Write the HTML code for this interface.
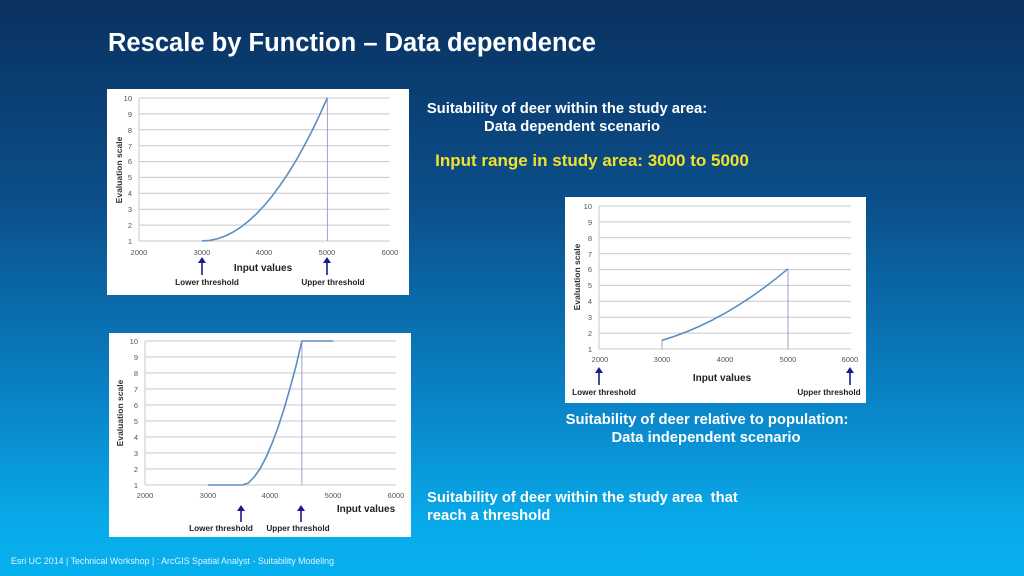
<!DOCTYPE html>
<html><head><meta charset="utf-8"><style>
html,body{margin:0;padding:0}
body{width:1024px;height:576px;overflow:hidden;background:linear-gradient(to bottom,#0a3160 0%,#0b4f8a 35%,#0a84c8 70%,#08aceb 92%,#07b0ee 100%);font-family:"Liberation Sans",sans-serif}
svg{position:absolute;left:0;top:0}
</style></head><body>
<svg width="1024" height="576" viewBox="0 0 1024 576" font-family="Liberation Sans, sans-serif">
<text x="108" y="51" fill="#fff" font-size="25.5" font-weight="bold" textLength="488" lengthAdjust="spacingAndGlyphs">Rescale by Function – Data dependence</text>
<text x="567" y="113" fill="#fff" font-size="14.8" font-weight="bold" text-anchor="middle">Suitability of deer within the study area:</text>
<text x="572" y="131" fill="#fff" font-size="14.8" font-weight="bold" text-anchor="middle">Data dependent scenario</text>
<text x="592" y="166" fill="#f2e12a" font-size="17" font-weight="bold" text-anchor="middle">Input range in study area: 3000 to 5000</text>
<text x="707" y="424" fill="#fff" font-size="14.8" font-weight="bold" text-anchor="middle">Suitability of deer relative to population:</text>
<text x="706" y="442" fill="#fff" font-size="14.8" font-weight="bold" text-anchor="middle">Data independent scenario</text>
<text x="427" y="502" fill="#fff" font-size="14.8" font-weight="bold">Suitability of deer within the study area&#160; that</text>
<text x="427" y="520" fill="#fff" font-size="14.8" font-weight="bold">reach a threshold</text>
<text x="11" y="564" fill="#dff3ff" font-size="9" textLength="323" lengthAdjust="spacingAndGlyphs">Esri UC 2014 | Technical Workshop |  :   ArcGIS Spatial Analyst - Suitability Modeling</text>

<!-- Chart 1 -->
<rect x="107" y="89" width="302" height="206" fill="#fff"/>
<g stroke="#c8c8c8" stroke-width="1">
<line x1="139" x2="390" y1="98" y2="98"/><line x1="139" x2="390" y1="113.9" y2="113.9"/><line x1="139" x2="390" y1="129.8" y2="129.8"/><line x1="139" x2="390" y1="145.7" y2="145.7"/><line x1="139" x2="390" y1="161.6" y2="161.6"/><line x1="139" x2="390" y1="177.4" y2="177.4"/><line x1="139" x2="390" y1="193.3" y2="193.3"/><line x1="139" x2="390" y1="209.2" y2="209.2"/><line x1="139" x2="390" y1="225.1" y2="225.1"/><line x1="139" x2="390" y1="241" y2="241"/>
<line x1="139" x2="139" y1="98" y2="241"/>
</g>
<g fill="#555" font-size="7.5" text-anchor="end">
<text x="132" y="101">10</text><text x="132" y="117">9</text><text x="132" y="133">8</text><text x="132" y="149">7</text><text x="132" y="164">6</text><text x="132" y="180">5</text><text x="132" y="196">4</text><text x="132" y="212">3</text><text x="132" y="228">2</text><text x="132" y="244">1</text>
</g>
<g fill="#555" font-size="7.5" text-anchor="middle">
<text x="139" y="255">2000</text><text x="202" y="255">3000</text><text x="264" y="255">4000</text><text x="327" y="255">5000</text><text x="390" y="255">6000</text>
</g>
<text transform="translate(122,170) rotate(-90)" text-anchor="middle" font-size="8.5" font-weight="bold" fill="#333">Evaluation scale</text>
<line x1="327.3" y1="98" x2="327.3" y2="241" stroke="#8888bb" stroke-width="0.8"/>
<polyline fill="none" stroke="#5b8ec4" stroke-width="1.6" stroke-linejoin="round" points="201.8,241 209.6,240.4 217.4,238.8 225.3,236 233.1,232.1 241,227.1 248.8,220.9 256.7,213.6 264.5,205.25 272.4,195.7 280.2,185.1 288.1,173.4 296,160.6 303.8,146.6 311.7,131.5 319.5,115.3 327.3,98"/>
<text x="263" y="271" text-anchor="middle" font-size="10" font-weight="bold" fill="#222">Input values</text>
<g stroke="#1a1a8a" stroke-width="1.6" fill="#1a1a8a">
<line x1="202" y1="262" x2="202" y2="275"/><polygon points="198,263 206,263 202,257" stroke="none"/>
<line x1="327" y1="262" x2="327" y2="275"/><polygon points="323,263 331,263 327,257" stroke="none"/>
</g>
<text x="207" y="285" text-anchor="middle" font-size="8.2" font-weight="bold" fill="#222">Lower threshold</text>
<text x="333" y="285" text-anchor="middle" font-size="8.2" font-weight="bold" fill="#222">Upper threshold</text>

<!-- Chart 3 (right) -->
<rect x="565" y="197" width="301" height="206" fill="#fff"/>
<g stroke="#c8c8c8" stroke-width="1">
<line x1="599" x2="851" y1="206" y2="206"/><line x1="599" x2="851" y1="221.9" y2="221.9"/><line x1="599" x2="851" y1="237.8" y2="237.8"/><line x1="599" x2="851" y1="253.7" y2="253.7"/><line x1="599" x2="851" y1="269.6" y2="269.6"/><line x1="599" x2="851" y1="285.4" y2="285.4"/><line x1="599" x2="851" y1="301.3" y2="301.3"/><line x1="599" x2="851" y1="317.2" y2="317.2"/><line x1="599" x2="851" y1="333.1" y2="333.1"/><line x1="599" x2="851" y1="349" y2="349"/>
<line x1="599" x2="599" y1="206" y2="349"/>
</g>
<g fill="#555" font-size="7.5" text-anchor="end">
<text x="592" y="209">10</text><text x="592" y="225">9</text><text x="592" y="241">8</text><text x="592" y="257">7</text><text x="592" y="272">6</text><text x="592" y="288">5</text><text x="592" y="304">4</text><text x="592" y="320">3</text><text x="592" y="336">2</text><text x="592" y="352">1</text>
</g>
<g fill="#555" font-size="7.5" text-anchor="middle">
<text x="600" y="362">2000</text><text x="662" y="362">3000</text><text x="725" y="362">4000</text><text x="788" y="362">5000</text><text x="850" y="362">6000</text>
</g>
<text transform="translate(580,277) rotate(-90)" text-anchor="middle" font-size="8.5" font-weight="bold" fill="#333">Evaluation scale</text>
<line x1="662" y1="340" x2="662" y2="349" stroke="#8888bb" stroke-width="0.8"/>
<line x1="788" y1="269" x2="788" y2="349" stroke="#8888bb" stroke-width="0.8"/>
<path fill="none" stroke="#5b8ec4" stroke-width="1.6" d="M662,340.3 Q725,322 788,268.8"/>
<text x="722" y="381" text-anchor="middle" font-size="10" font-weight="bold" fill="#222">Input values</text>
<g stroke="#1a1a8a" stroke-width="1.6" fill="#1a1a8a">
<line x1="599" y1="372" x2="599" y2="385"/><polygon points="595,373 603,373 599,367" stroke="none"/>
<line x1="850" y1="372" x2="850" y2="385"/><polygon points="846,373 854,373 850,367" stroke="none"/>
</g>
<text x="604" y="395" text-anchor="middle" font-size="8.2" font-weight="bold" fill="#222">Lower threshold</text>
<text x="829" y="395" text-anchor="middle" font-size="8.2" font-weight="bold" fill="#222">Upper threshold</text>

<!-- Chart 2 (bottom) -->
<rect x="109" y="333" width="302" height="204" fill="#fff"/>
<g stroke="#c8c8c8" stroke-width="1">
<line x1="145" x2="396" y1="341" y2="341"/><line x1="145" x2="396" y1="357" y2="357"/><line x1="145" x2="396" y1="373" y2="373"/><line x1="145" x2="396" y1="389" y2="389"/><line x1="145" x2="396" y1="405" y2="405"/><line x1="145" x2="396" y1="421" y2="421"/><line x1="145" x2="396" y1="437" y2="437"/><line x1="145" x2="396" y1="453" y2="453"/><line x1="145" x2="396" y1="469" y2="469"/><line x1="145" x2="396" y1="485" y2="485"/>
<line x1="145" x2="145" y1="341" y2="485"/>
</g>
<g fill="#555" font-size="7.5" text-anchor="end">
<text x="138" y="344">10</text><text x="138" y="360">9</text><text x="138" y="376">8</text><text x="138" y="392">7</text><text x="138" y="408">6</text><text x="138" y="424">5</text><text x="138" y="440">4</text><text x="138" y="456">3</text><text x="138" y="472">2</text><text x="138" y="488">1</text>
</g>
<g fill="#555" font-size="7.5" text-anchor="middle">
<text x="145" y="498">2000</text><text x="208" y="498">3000</text><text x="270" y="498">4000</text><text x="333" y="498">5000</text><text x="396" y="498">6000</text>
</g>
<text transform="translate(123,413) rotate(-90)" text-anchor="middle" font-size="8.5" font-weight="bold" fill="#333">Evaluation scale</text>
<line x1="301.9" y1="341" x2="301.9" y2="485" stroke="#8888bb" stroke-width="0.8"/>
<polyline fill="none" stroke="#5b8ec4" stroke-width="1.6" stroke-linejoin="round" points="207.8,485 242.3,485 248.3,483 254.2,477 260.2,468.5 266.1,457.3 272,443.5 278,427.5 284,409 289.9,388.6 296,366 301.9,341 333.3,341"/>
<text x="366" y="512" text-anchor="middle" font-size="10" font-weight="bold" fill="#222">Input values</text>
<g stroke="#1a1a8a" stroke-width="1.6" fill="#1a1a8a">
<line x1="241" y1="510" x2="241" y2="522"/><polygon points="237,511 245,511 241,505" stroke="none"/>
<line x1="301" y1="510" x2="301" y2="522"/><polygon points="297,511 305,511 301,505" stroke="none"/>
</g>
<text x="221" y="531" text-anchor="middle" font-size="8.2" font-weight="bold" fill="#222">Lower threshold</text>
<text x="298" y="531" text-anchor="middle" font-size="8.2" font-weight="bold" fill="#222">Upper threshold</text>
</svg>
</body></html>
